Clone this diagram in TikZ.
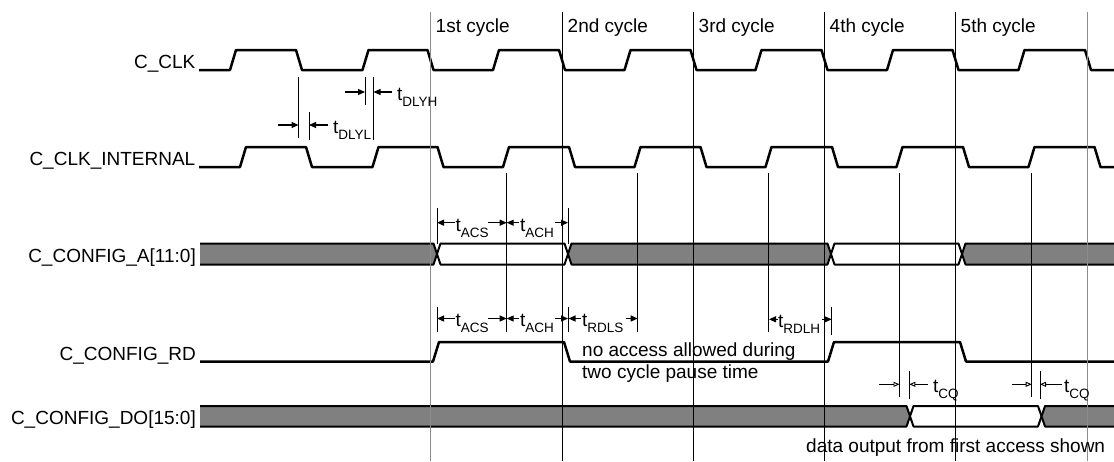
\documentclass[tikz,border=0pt]{standalone}
\usepackage{fontspec}
\setmainfont{Liberation Sans}
\usetikzlibrary{arrows.meta}
\definecolor{busgray}{RGB}{128,128,128}
\definecolor{linegray}{RGB}{140,140,140}
\newcommand\tsub[1]{t\raisebox{-6pt}{\fontsize{13.5}{13.5}\selectfont #1}}
\begin{document}
\begin{tikzpicture}[x=1pt,y=-1pt,
 txt/.style={font=\fontsize{19}{22}\selectfont, inner sep=0pt},
 siglab/.style={txt, anchor=base east},
 annot/.style={txt, anchor=base west},
 wavel/.style={line width=2.5pt, line join=round},
 busl/.style={line width=2pt, line join=round},
 cycl/.style={line width=0.9pt},
 cycg/.style={line width=1.2pt, draw=linegray},
 mline/.style={line width=0.9pt},
 dimar/.style={line width=1.1pt, -{Triangle[length=7pt,width=6pt]}},
 dimop/.style={line width=0.9pt, -{Triangle[open,length=6pt,width=5pt]}},
]
\useasboundingbox (0,0) rectangle (1114,461);

% signal names
\node[siglab] (lclk)  at (195.5,68.5) {C\_CLK};
\node[siglab] (lclki) at (195.5,165.5) {C\_CLK\_INTERNAL};
\node[siglab] (la)    at (196,262) {C\_CONFIG\_A[11:0]};
\node[siglab] (lrd)   at (196,360) {C\_CONFIG\_RD};
\node[siglab] (ldo)   at (196,424.5) {C\_CONFIG\_DO[15:0]};

% cycle names
\node[annot] (c1) at (435.5,32) {1st cycle};
\node[annot] (c2) at (567.5,32) {2nd cycle};
\node[annot] (c3) at (698.5,32) {3rd cycle};
\node[annot] (c4) at (829.5,32) {4th cycle};
\node[annot] (c5) at (960.5,32) {5th cycle};

% C_CLK
\draw[wavel] (199,70) -- (230,70) -- (236,50) -- (296,50) -- (302,70)
 -- (362.5,70) -- (368.5,50) -- (427.5,50) -- (433.5,70)
 -- (493,70) -- (499,50) -- (559,50) -- (565,70)
 -- (624.5,70) -- (630.5,50) -- (690.5,50) -- (696.5,70)
 -- (755.5,70) -- (761.5,50) -- (821.5,50) -- (827.5,70)
 -- (887,70) -- (893,50) -- (952.5,50) -- (958.5,70)
 -- (1018.5,70) -- (1024.5,50) -- (1085,50) -- (1091,70) -- (1114,70);

% C_CLK_INTERNAL
\draw[wavel] (199,167) -- (240,167) -- (246,147) -- (306,147) -- (312,167)
 -- (372.5,167) -- (378.5,147) -- (437.5,147) -- (443.5,167)
 -- (503,167) -- (509,147) -- (569,147) -- (575,167)
 -- (634.5,167) -- (640.5,147) -- (700.5,147) -- (706.5,167)
 -- (765.5,167) -- (771.5,147) -- (832,147) -- (838,167)
 -- (896.5,167) -- (902.5,147) -- (963,147) -- (969,167)
 -- (1028.5,167) -- (1034.5,147) -- (1094.5,147) -- (1100.5,167) -- (1114,167);

% C_CONFIG_A bus
\fill[busgray] (200,243.5) -- (433.5,243.5) -- (437,254) -- (433.5,264.5) -- (200,264.5) -- cycle;
\draw[busl] (200,243.5) -- (433.5,243.5) -- (437,254) -- (433.5,264.5) -- (200,264.5);
\draw[busl,fill=white] (437,254) -- (440.5,243.5) -- (564.5,243.5) -- (568,254) -- (564.5,264.5) -- (440.5,264.5) -- cycle;
\draw[busl,fill=busgray] (568,254) -- (571.5,243.5) -- (827.5,243.5) -- (831,254) -- (827.5,264.5) -- (571.5,264.5) -- cycle;
\draw[busl,fill=white] (831,254) -- (834.5,243.5) -- (958.5,243.5) -- (962,254) -- (958.5,264.5) -- (834.5,264.5) -- cycle;
\fill[busgray] (1114,243.5) -- (965.5,243.5) -- (962,254) -- (965.5,264.5) -- (1114,264.5) -- cycle;
\draw[busl] (1114,243.5) -- (965.5,243.5) -- (962,254) -- (965.5,264.5) -- (1114,264.5);

% C_CONFIG_RD
\draw[wavel] (200,361.5) -- (433,361.5) -- (439,342) -- (564,342) -- (570,361.5)
 -- (828,361.5) -- (834,342) -- (960,342) -- (966,361.5) -- (1114,361.5);

% C_CONFIG_DO bus
\fill[busgray] (200,406) -- (906.5,406) -- (910,416.25) -- (906.5,426.5) -- (200,426.5) -- cycle;
\draw[busl] (200,406) -- (906.5,406) -- (910,416.25) -- (906.5,426.5) -- (200,426.5);
\draw[busl,fill=white] (910,416.25) -- (913.5,406) -- (1038,406) -- (1041.5,416.25) -- (1038,426.5) -- (913.5,426.5) -- cycle;
\fill[busgray] (1114,406) -- (1045,406) -- (1041.5,416.25) -- (1045,426.5) -- (1114,426.5) -- cycle;
\draw[busl] (1114,406) -- (1045,406) -- (1041.5,416.25) -- (1045,426.5) -- (1114,426.5);

% cycle boundary lines
\draw[cycg] (430.5,12) -- (430.5,461);
\draw[cycl] (562.5,12) -- (562.5,461);
\draw[cycl] (693.5,12) -- (693.5,461);
\draw[cycl] (824.5,12) -- (824.5,461);
\draw[cycl] (955.5,12) -- (955.5,461);
\draw[cycg] (1087.5,12) -- (1087.5,461);

% lines from internal clock rising edges
\draw[mline] (506.7,173) -- (506.7,331.5);
\draw[mline] (637.7,173) -- (637.7,331.5);
\draw[mline] (768.5,173) -- (768.5,331.5);
\draw[mline] (899.5,173) -- (899.5,396.5);
\draw[mline] (1031.7,173) -- (1031.7,396.5);

% t_DLYL / t_DLYH
\draw[mline] (298.5,77) -- (298.5,138);
\draw[mline] (309,112) -- (309,140);
\draw[mline] (365,77) -- (365,105);
\draw[mline] (373.5,77) -- (373.5,140);
\draw[dimar] (278,125) -- (298.5,125);
\draw[dimar] (328,125) -- (309,125);
\node[annot] (tdlyl) at (333,133) {\tsub{DLYL}};
\draw[dimar] (345,92) -- (365,92);
\draw[dimar] (392,92) -- (373.5,92);
\node[annot] (tdlyh) at (397,100) {\tsub{DLYH}};

% t_ACS / t_ACH (address)
\draw[mline] (437,208) -- (437,243.5);
\draw[mline] (568,208) -- (568,243.5);
\draw[dimar] (455,222.7) -- (437,222.7);
\draw[dimar] (488,222.7) -- (506.7,222.7);
\node[annot] (tacs1) at (455.5,231) {\tsub{ACS}};
\draw[dimar] (519,222.7) -- (506.7,222.7);
\draw[dimar] (555,222.7) -- (568,222.7);
\node[annot] (tach1) at (520,231) {\tsub{ACH}};

% t_ACS / t_ACH / t_RDLS (read)
\draw[mline] (437,306.5) -- (437,331.5);
\draw[mline] (568,306.5) -- (568,331.5);
\draw[dimar] (455,318.5) -- (437,318.5);
\draw[dimar] (488,318.5) -- (506.7,318.5);
\node[annot] (tacs2) at (455.5,326.7) {\tsub{ACS}};
\draw[dimar] (519,318.5) -- (506.7,318.5);
\draw[dimar] (555,318.5) -- (568,318.5);
\node[annot] (tach2) at (520,326.7) {\tsub{ACH}};
\draw[dimar] (581,318.5) -- (568.5,318.5);
\draw[dimar] (626,318.5) -- (637.7,318.5);
\node[annot] (trdls) at (582,326.7) {\tsub{RDLS}};

% t_RDLH
\draw[mline] (831.7,306.5) -- (831.7,335);
\draw[dimar] (777.5,319.3) -- (769,319.3);
\draw[dimar] (822,319.3) -- (831.7,319.3);
\node[annot] (trdlh) at (778,327.5) {\tsub{RDLH}};

% t_CQ
\draw[mline] (909.3,370.7) -- (909.3,399.3);
\draw[dimop] (879,384.3) -- (899.5,384.3);
\draw[dimop] (928,384.3) -- (909.3,384.3);
\node[annot] (tcq1) at (933,392.5) {\tsub{CQ}};
\draw[mline] (1040,370.7) -- (1040,399.3);
\draw[dimop] (1011.7,384.3) -- (1031.7,384.3);
\draw[dimop] (1061.7,384.3) -- (1040,384.3);
\node[annot] (tcq2) at (1064,392.5) {\tsub{CQ}};

% notes
\node[annot] (n1) at (582,356) {no access allowed during};
\node[annot] (n2) at (582,378) {two cycle pause time};
\node[annot] (n3) at (806,452) {data output from first access shown};
\end{tikzpicture}
\end{document}
